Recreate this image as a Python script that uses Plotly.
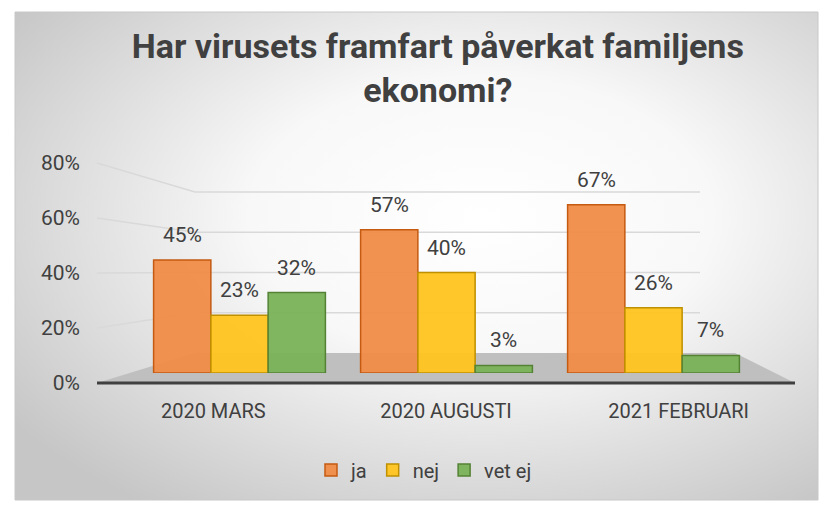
import base64
import plotly.graph_objects as go

categories = ["2020 MARS", "2020 AUGUSTI", "2021 FEBRUARI"]
ja = [0.45, 0.57, 0.67]
nej = [0.23, 0.40, 0.26]
vet_ej = [0.32, 0.03, 0.07]
y_ticks = [0, 0.2, 0.4, 0.6, 0.8]
y_tick_labels = ["0%", "20%", "40%", "60%", "80%"]
title_text = "Har virusets framfart påverkat familjens<br>ekonomi?"

series = [
    ("ja", ja, "rgba(240,140,72,0.95)", "#C55A11"),
    ("nej", nej, "rgba(255,196,30,0.95)", "#BF9000"),
    ("vet ej", vet_ej, "rgba(122,178,88,0.95)", "#548235"),
]

FONT = "Roboto, Arial, sans-serif"
TXT = "#404040"

W, H = 823, 505
L, R, T, B = 97, 28, 163, 122
pw, ph = W - L - R, H - T - B


def px(x):
    return (x - L) / pw


def py(y):
    return (H - B - y) / ph


BARGAP = 0.17
fig = go.Figure()
# invisible trace to carry the category axis labels (front edge)
fig.add_trace(go.Scatter(x=categories, y=[0] * len(categories), mode="markers",
                         marker=dict(opacity=0), showlegend=False, hoverinfo="skip",
                         xaxis="x", yaxis="y"))

annotations = []
n = len(series)
w = (1 - BARGAP) / n
for k, (name, vals, fill, line) in enumerate(series):
    fig.add_trace(go.Bar(
        x=categories, y=vals, name=name,
        marker=dict(color=fill, line=dict(color=line, width=1.5)),
        xaxis="x2", yaxis="y2", hoverinfo="skip",
    ))
    for i, v in enumerate(vals):
        annotations.append(dict(
            xref="x2", yref="y2", x=i + (k - (n - 1) / 2) * w, y=v,
            text=f"{round(v * 100)}%", showarrow=False, yanchor="middle",
            xanchor="center", yshift=25,
            font=dict(size=21, color=TXT, family=FONT)))

svg = """<svg xmlns='http://www.w3.org/2000/svg' width='803' height='488'>
<defs><radialGradient id='g' cx='0.58' cy='0.42' r='0.72'>
<stop offset='0' stop-color='#ffffff'/><stop offset='0.4' stop-color='#f8f8f8'/>
<stop offset='1' stop-color='#c6c6c6'/></radialGradient></defs>
<rect width='803' height='488' fill='url(#g)'/></svg>"""
bg = "data:image/svg+xml;base64," + base64.b64encode(svg.encode()).decode()

# 3D-style gridlines: front (tick labels) edge to back wall
shapes = [
    dict(type="rect", xref="paper", yref="paper",
         x0=px(15), x1=px(818), y0=py(500), y1=py(12),
         line=dict(color="#c8c8c8", width=1), fillcolor="rgba(0,0,0,0)", layer="below"),
    dict(type="path", xref="paper", yref="paper", layer="below",
         path=f"M {px(97)} {py(383)} L {px(795)} {py(383)} L {px(735)} {py(353)} L {px(195)} {py(353)} Z",
         fillcolor="#bfbfbf", line=dict(width=0)),
]
for v in y_ticks[1:]:
    yf = 383 - v / 0.8 * 220
    yb = 353 - v / 0.8 * 161
    shapes.append(dict(type="path", xref="paper", yref="paper", layer="below",
                       path=f"M {px(97)} {py(yf)} L {px(195)} {py(yb)} L {px(700)} {py(yb)}",
                       line=dict(color="#d9d9d9", width=1.5)))
shapes.append(dict(type="line", xref="paper", yref="paper",
                   x0=px(97), x1=px(795), y0=py(383), y1=py(383),
                   line=dict(color="#404040", width=3)))

fig.update_layout(
    width=W, height=H,
    margin=dict(l=L, r=R, t=T, b=B),
    paper_bgcolor="white",
    plot_bgcolor="rgba(0,0,0,0)",
    barmode="group",
    bargap=BARGAP,
    bargroupgap=0,
    title=dict(text=title_text, x=0.532, xanchor="center", y=1 - 58 / H, yanchor="top",
               font=dict(size=34, color=TXT, family=FONT, weight="bold")),
    font=dict(family=FONT, color=TXT),
    xaxis=dict(domain=[0, 1], range=[-0.5, len(categories) - 0.5], showgrid=False,
               showline=False, ticks="", zeroline=False,
               tickfont=dict(size=20, color=TXT, family=FONT), ticklabelstandoff=14),
    yaxis=dict(domain=[0, 1], range=[0, 0.8], tickvals=y_ticks, ticktext=y_tick_labels,
               showgrid=False, zeroline=False, showline=False, ticks="",
               ticklabelstandoff=16,
               tickfont=dict(size=21, color=TXT, family=FONT)),
    xaxis2=dict(domain=[px(136), px(757)], anchor="y2", showgrid=False, showline=False,
                ticks="", showticklabels=False, zeroline=False),
    yaxis2=dict(domain=[py(373), py(172)], anchor="x2", range=[0, 0.8], showgrid=False,
                showline=False, ticks="", showticklabels=False, zeroline=False),
    legend=dict(orientation="h", x=px(424), xanchor="center", y=py(470), yanchor="middle",
                font=dict(size=20, color=TXT, family=FONT),
                bgcolor="rgba(0,0,0,0)", itemwidth=30, traceorder="normal"),
    images=[dict(source=bg, xref="paper", yref="paper",
                 x=px(15), y=py(12), sizex=(818 - 15) / pw, sizey=(500 - 12) / ph,
                 xanchor="left", yanchor="top", sizing="stretch", layer="below")],
    shapes=shapes,
    annotations=annotations,
)

fig.write_html("out.html", config={"displayModeBar": False},
               post_script="document.body.style.margin='0px';")
